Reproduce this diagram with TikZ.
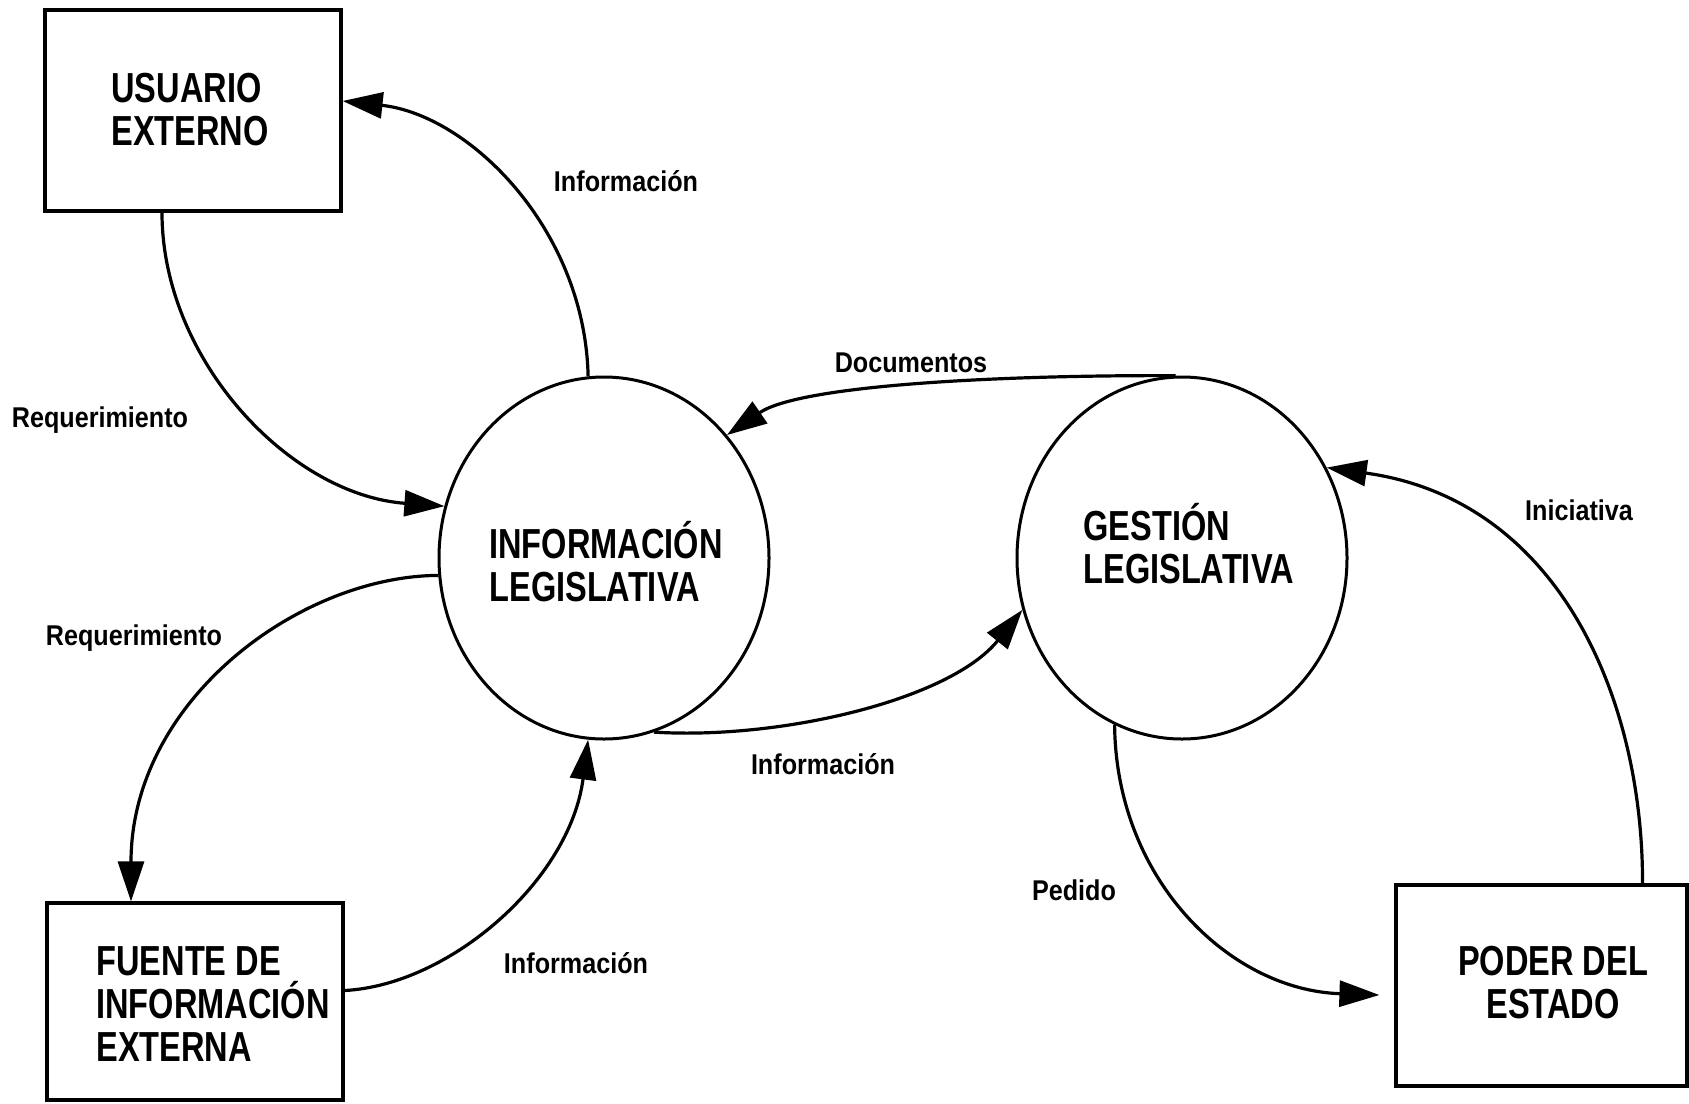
\documentclass[tikz,border=0pt]{standalone}
\usepackage{fontspec}
\setmainfont{Liberation Sans}
\newfontfamily\nodefont[FakeStretch=0.775]{Liberation Sans}
\newfontfamily\flowfont[FakeStretch=0.88]{Liberation Sans}
\usetikzlibrary{shapes.geometric,arrows.meta}
\begin{document}
\begin{tikzpicture}[x=0.5pt,y=-0.5pt,
  entity/.style={draw,line width=1.6pt,rectangle,inner sep=0pt},
  process/.style={draw,line width=1.5pt,ellipse,inner sep=0pt,
    minimum width=165pt,minimum height=181pt},
  caption/.style={inner sep=0pt,align=left,
    font=\nodefont\bfseries\fontsize{21}{21.5}\selectfont},
  flowlabel/.style={inner sep=0pt,
    font=\flowfont\bfseries\fontsize{14.3}{16}\selectfont},
  flow/.style={line width=1.6pt,-{Triangle[length=20pt,width=13pt]}}]

\fill[white] (0,0) rectangle (1689,1103);
\useasboundingbox (0,0) rectangle (1689,1103);

% external entities
\node[entity,minimum width=148pt,minimum height=100.5pt] (usr) at (193,110.5) {};
\node[entity,minimum width=148pt,minimum height=98.5pt] (src) at (195,1001.5) {};
\node[entity,minimum width=145.5pt,minimum height=100.5pt] (pod) at (1541.5,985.5) {};

% processes
\node[process] (info) at (604,558) {};
\node[process] (gest) at (1182,558) {};

% entity and process names
\node[caption,anchor=west] (usrtxt) at (111,109.5) {USUARIO\\EXTERNO};
\node[caption,anchor=west] (srctxt) at (96,1004) {FUENTE DE\\INFORMACIÓN\\EXTERNA};
\node[caption,align=center] (podtxt) at (1553,982.5) {PODER DEL\\ESTADO};
\node[caption,anchor=west] (infotxt) at (489,561.5) {INFORMACIÓN\\LEGISLATIVA};
\node[caption,anchor=west] (gesttxt) at (1083,544) {GESTIÓN\\LEGISLATIVA};

% data flows
\draw[flow] (info.95) .. controls (585,230) and (470,115) .. ([yshift=4.75pt]usr.east);
\draw[flow] ([xshift=-15.5pt]usr.south) .. controls (162,360) and (290,495) .. (info.162);
\draw[flow] (info.186) .. controls (300,576) and (131,700) .. ([xshift=-32pt]src.north);
\draw[flow] ([yshift=5.5pt]src.east) .. controls (450,985) and (570,880) .. (info.265);
\draw[flow] (info.286) .. controls (780,740) and (950,700) .. (gest.198);
\draw[flow] (gest.92) .. controls (1000,375) and (800,385) .. (info.45);
\draw[flow] ([xshift=50.5pt]pod.north) .. controls (1643,700) and (1560,500) .. (gest.32);
\draw[flow] (gest.248) .. controls (1116,880) and (1230,990) .. ([xshift=-7.5pt,yshift=-4.75pt]pod.west);

% flow labels
\node[flowlabel] (l1) at (626,181) {Información};
\node[flowlabel] (l2) at (100,420) {Requerimiento};
\node[flowlabel] (l3) at (134,638) {Requerimiento};
\node[flowlabel] (l4) at (576,963) {Información};
\node[flowlabel] (l5) at (823,764) {Información};
\node[flowlabel] (l6) at (911,363) {Documentos};
\node[flowlabel] (l7) at (1579,510) {Iniciativa};
\node[flowlabel] (l8) at (1074,890) {Pedido};
\end{tikzpicture}
\end{document}
